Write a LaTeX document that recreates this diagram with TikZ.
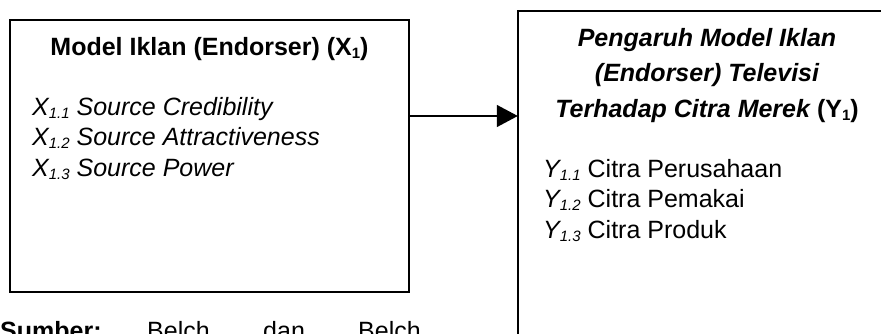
\documentclass[tikz,border=0pt]{standalone}
\usepackage{fontspec}
\setmainfont{Liberation Sans}
\usetikzlibrary{arrows.meta}
\newcommand{\sbx}[1]{\raisebox{-3pt}{\fontsize{15}{15}\selectfont #1}}
\tikzset{
  box/.style={draw, line width=1.5pt, rectangle, inner sep=0pt},
  txt/.style={inner sep=0pt, font=\fontsize{25}{30}\selectfont},
  conn/.style={line width=1.4pt, -{Triangle[length=21pt,width=22pt]}},
}
\begin{document}
\begin{tikzpicture}[x=1pt,y=1pt]
\path[use as bounding box, clip] (0,0) rectangle (881,334);
\node[box, minimum width=399pt, minimum height=272pt] (X) at (209.5,178) {};
\node[inner sep=0pt, minimum width=382pt, minimum height=349pt] (Y) at (709,148.5) {};
\draw[line width=1.5pt] (Y.north east) -- (Y.north west) -- (Y.south west);
\draw[conn] ([yshift=40pt]X.east) -- ([yshift=40pt]X.east -| Y.west);
% left texts
\node[txt, anchor=base, font=\fontsize{25}{30}\selectfont\bfseries] (xt) at (209.5,278) {Model Iklan (Endorser) (X\sbx{1})};
\node[txt, anchor=base west, font=\fontsize{25}{30}\selectfont\itshape] (x1) at (32,218) {X\sbx{1.1} Source Credibility};
\node[txt, anchor=base west, font=\fontsize{25}{30}\selectfont\itshape] (x2) at (32,188) {X\sbx{1.2} Source Attractiveness};
\node[txt, anchor=base west, font=\fontsize{25}{30}\selectfont\itshape] (x3) at (32,157) {X\sbx{1.3} Source Power};
% right texts
\node[txt, anchor=base, font=\fontsize{25}{30}\selectfont\bfseries\itshape] (yt1) at (707,287) {Pengaruh Model Iklan};
\node[txt, anchor=base, font=\fontsize{25}{30}\selectfont\bfseries\itshape] (yt2) at (707,252) {(Endorser) Televisi};
\node[txt, anchor=base, font=\fontsize{25}{30}\selectfont\bfseries] (yt3) at (707,216) {\itshape Terhadap Citra Merek\upshape\ (Y\sbx{1})};
\node[txt, anchor=base west] (y1) at (543,156) {\textit{Y\sbx{1.1}} Citra Perusahaan};
\node[txt, anchor=base west] (y2) at (543,126) {\textit{Y\sbx{1.2}} Citra Pemakai};
\node[txt, anchor=base west] (y3) at (543,95) {\textit{Y\sbx{1.3}} Citra Produk};
% source line
\node[txt, anchor=base west, font=\fontsize{25}{30}\selectfont\bfseries] (s0) at (0,-6) {Sumber:};
\node[txt, anchor=base west] (s1) at (147,-6) {Belch};
\node[txt, anchor=base west] (s2) at (263,-6) {dan};
\node[txt, anchor=base west] (s3) at (358,-6) {Belch};
\end{tikzpicture}
\end{document}
